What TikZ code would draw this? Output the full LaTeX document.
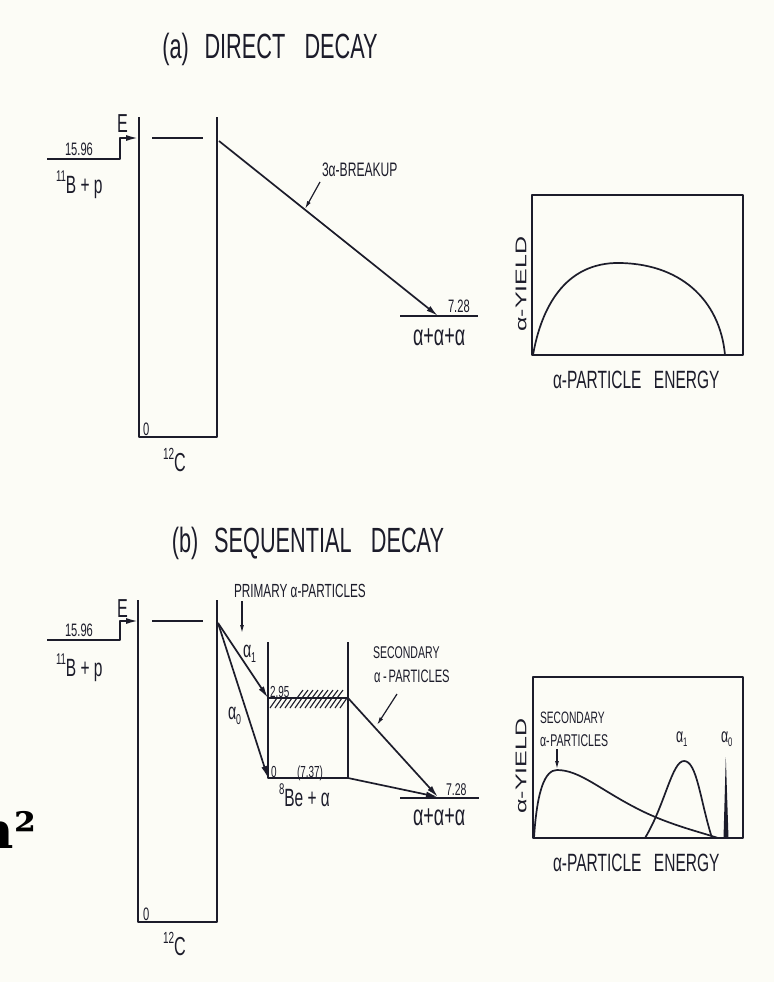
\documentclass[tikz,border=0pt]{standalone}
\usepackage{fontspec}
\usepackage{graphicx}
\setmainfont{Liberation Sans}[FakeStretch=0.62]
\newfontfamily\plainsans{Liberation Sans}
\newfontfamily\bigserif{DejaVu Serif}
\usetikzlibrary{arrows.meta}
\definecolor{ink}{RGB}{28,28,42}
\definecolor{paper}{RGB}{252,252,246}
\newcommand\fs[1]{\fontsize{#1}{#1}\selectfont}
\newcommand\supr[1]{\raisebox{0.45em}{\scalebox{0.62}{#1}}}
\newcommand\subr[1]{\raisebox{-0.22em}{\scalebox{0.62}{#1}}}
\tikzset{
  ln/.style={line width=1.7pt, draw=ink, line join=round},
  arr/.style={ln, -{Latex[length=12pt,width=6pt]}},
  parr/.style={line width=1.2pt, draw=ink, -{Latex[length=8pt,width=4pt]}},
  lbl/.style={inner sep=0pt, outer sep=0pt, text=ink},
  vlbl/.style={lbl, rotate=90},
}
\begin{document}
\begin{tikzpicture}[x=1pt,y=-1pt]
\fill[paper] (0,0) rectangle (774,982);
\useasboundingbox (0,0) rectangle (774,982);

% ================= (a) DIRECT DECAY =================
\node[lbl, font=\fs{35}] (ta) at (270,49) {(a)\hspace{0.45em}DIRECT\hspace{0.55em}DECAY};

\coordinate (aB1) at (47,159);
\coordinate (aB2) at (120,159);
\coordinate (aB3) at (120,138);
\coordinate (aE)  at (138,138);
\draw[arr] (aB1) -- (aB2) -- (aB3) -- (aE);
\node[lbl, font=\fs{18}, anchor=base west] (a1596) at (65,155) {15.96};
\node[lbl, font=\fs{25}, anchor=base west] (aBp) at (56,193) {\supr{11}B + p};
\node[lbl, font=\fs{26}, anchor=base west] (aEl) at (117,132) {E};

\coordinate (aC1) at (139,117);
\coordinate (aC2) at (139,437);
\coordinate (aC3) at (217,437);
\coordinate (aC4) at (217,117);
\draw[ln] (aC1) -- (aC2) -- (aC3) -- (aC4);
\coordinate (aL1) at (152,138);
\coordinate (aL2) at (203,138);
\draw[ln] (aL1) -- (aL2);
\node[lbl, font=\fs{18}, anchor=base west] (a0) at (143,435) {0};
\node[lbl, font=\fs{26}, anchor=base west] (a12C) at (163,471) {\supr{12}C};

\coordinate (aS) at (219,141);
\coordinate (aF) at (438,316);
\draw[arr] (aS) -- (aF);
\coordinate (a3L) at (400,316);
\coordinate (a3R) at (478,316);
\draw[ln] (a3L) -- (a3R);
\node[lbl, font=\fs{18}, anchor=base west] (a728) at (448,312) {7.28};
\node[lbl, font=\fs{29}, anchor=base west] (a3a) at (413,345) {α+α+α};

\node[lbl, font=\fs{19.5}, anchor=base west] (abr) at (322,176) {3α-BREAKUP};
\coordinate (aP1) at (320,182);
\coordinate (aP2) at (305,209);
\draw[parr] (aP1) -- (aP2);

% plot (a)
\coordinate (apA) at (532,195);
\coordinate (apB) at (743,355);
\draw[ln] (apA) rectangle (apB);
\draw[ln] (533,355) .. controls (540,315) and (560,265) .. (615,263)
          .. controls (680,262) and (720,300) .. (725,355);
\node[vlbl] (aY) at (521,284) {\scalebox{1}[0.62]{\plainsans\fs{25}α-YIELD}};
\node[lbl, font=\fs{25}, anchor=base west] (aX) at (553,388) {α-PARTICLE\hspace{0.5em}ENERGY};

% ================= (b) SEQUENTIAL DECAY =================
\node[lbl, font=\fs{35}] (tb) at (308,543) {(b)\hspace{0.45em}SEQUENTIAL\hspace{0.55em}DECAY};

\coordinate (bB1) at (47,640);
\coordinate (bB2) at (120,640);
\coordinate (bB3) at (120,621);
\coordinate (bE)  at (138,621);
\draw[arr] (bB1) -- (bB2) -- (bB3) -- (bE);
\node[lbl, font=\fs{18}, anchor=base west] (b1596) at (65,636) {15.96};
\node[lbl, font=\fs{25}, anchor=base west] (bBp) at (56,676) {\supr{11}B + p};
\node[lbl, font=\fs{26}, anchor=base west] (bEl) at (117,617) {E};

\coordinate (bC1) at (138,600);
\coordinate (bC2) at (138,922);
\coordinate (bC3) at (217,922);
\coordinate (bC4) at (217,600);
\draw[ln] (bC1) -- (bC2) -- (bC3) -- (bC4);
\coordinate (bL1) at (152,621);
\coordinate (bL2) at (203,621);
\draw[ln] (bL1) -- (bL2);
\node[lbl, font=\fs{18}, anchor=base west] (b0) at (143,920) {0};
\node[lbl, font=\fs{26}, anchor=base west] (b12C) at (163,955) {\supr{12}C};

% primary alphas
\coordinate (bS) at (218,623);
\coordinate (bBeTL) at (268,642);
\coordinate (bBe1) at (268,698);
\coordinate (bBe0) at (268,778);
\coordinate (bBeR0) at (348,778);
\coordinate (bBeR1) at (348,698);
\coordinate (bBeTR) at (348,642);
\draw[arr] (bS) -- (bBe1);
\draw[arr] (bS) -- (bBe0);
\draw[ln] (bBeTL) -- (bBe0) -- (bBeR0) -- (bBeTR);
\draw[ln] (bBe1) -- (bBeR1);
% hatching of the broad 2.95 level
\foreach \x in {270,275,...,340} \draw[line width=1.1pt, ink] (\x,708) -- (\x+7,698);
\foreach \x in {297,302,...,340} \draw[line width=1.1pt, ink] (\x,698) -- (\x+6,690);
\node[lbl, font=\fs{16}, anchor=base west] (b295) at (270,697) {2.95};
\node[lbl, font=\fs{16}, anchor=base west] (bz) at (271,777) {0};
\node[lbl, font=\fs{16}, anchor=base west] (b737) at (297,777) {(7.37)};
\node[lbl, font=\fs{25}, anchor=base west] (bBea) at (279,806) {\supr{8}Be + α};

\node[lbl, font=\fs{23}, anchor=base west] (ba1) at (243,657) {α\subr{1}};
\node[lbl, font=\fs{23}, anchor=base west] (ba0) at (228,719) {α\subr{0}};

\node[lbl, font=\fs{19}, anchor=base west] (bprim) at (234,597) {PRIMARY α-PARTICLES};
\coordinate (bPp1) at (242,601);
\coordinate (bPp2) at (242,633);
\draw[parr] (bPp1) -- (bPp2);

% secondary alphas
\coordinate (bF) at (438,797);
\draw[arr] (bBeR1) -- (bF);
\draw[arr] (bBeR0) -- (bF);
\coordinate (b3L) at (400,798);
\coordinate (b3R) at (479,798);
\draw[ln] (b3L) -- (b3R);
\node[lbl, font=\fs{17}, anchor=base west] (b728) at (446,795) {7.28};
\node[lbl, font=\fs{29}, anchor=base west] (b3a) at (413,825) {α+α+α};

\node[lbl, font=\fs{17}, anchor=base west] (bsec1) at (373,658) {SECONDARY};
\node[lbl, font=\fs{18}, anchor=base west] (bsec2) at (374,682) {α\hspace{0.15em}-\hspace{0.1em}PARTICLES};
\coordinate (bSp1) at (397,694);
\coordinate (bSp2) at (377,725);
\draw[parr] (bSp1) -- (bSp2);

% plot (b)
\coordinate (bpA) at (533,677);
\coordinate (bpB) at (743,838);
\draw[ln] (bpA) rectangle (bpB);
\draw[ln] (534,838) .. controls (537,790) and (545,770) .. (557,770)
          .. controls (580,770) and (600,790) .. (640,810)
          .. controls (670,825) and (700,832) .. (718,838);
\draw[ln] (645,838) .. controls (665,805) and (672,761) .. (684,761)
          .. controls (697,761) and (700,800) .. (712,838);
\fill[ink] (723.5,838) -- (725.8,757) -- (728.5,838) -- cycle;
\node[vlbl] (bY) at (521,766) {\scalebox{1}[0.62]{\plainsans\fs{25}α-YIELD}};
\node[lbl, font=\fs{25}, anchor=base west] (bX) at (553,871) {α-PARTICLE\hspace{0.5em}ENERGY};

\node[lbl, font=\fs{16.5}, anchor=base west] (bps1) at (540,723) {SECONDARY};
\node[lbl, font=\fs{17}, anchor=base west] (bps2) at (540,746) {α-\hspace{0.05em}PARTICLES};
\coordinate (bpp1) at (557,749);
\coordinate (bpp2) at (557,769);
\draw[parr] (bpp1) -- (bpp2);
\node[lbl, font=\fs{20}, anchor=base west] (bpa1) at (676,742) {α\subr{1}};
\node[lbl, font=\fs{20}, anchor=base west] (bpa0) at (721,742) {α\subr{0}};

% stray cropped text at the left edge
\node[lbl, font=\bigserif\bfseries\fs{50}, anchor=base east, text=black] (nsq) at (36,848) {n²};
\end{tikzpicture}
\end{document}
